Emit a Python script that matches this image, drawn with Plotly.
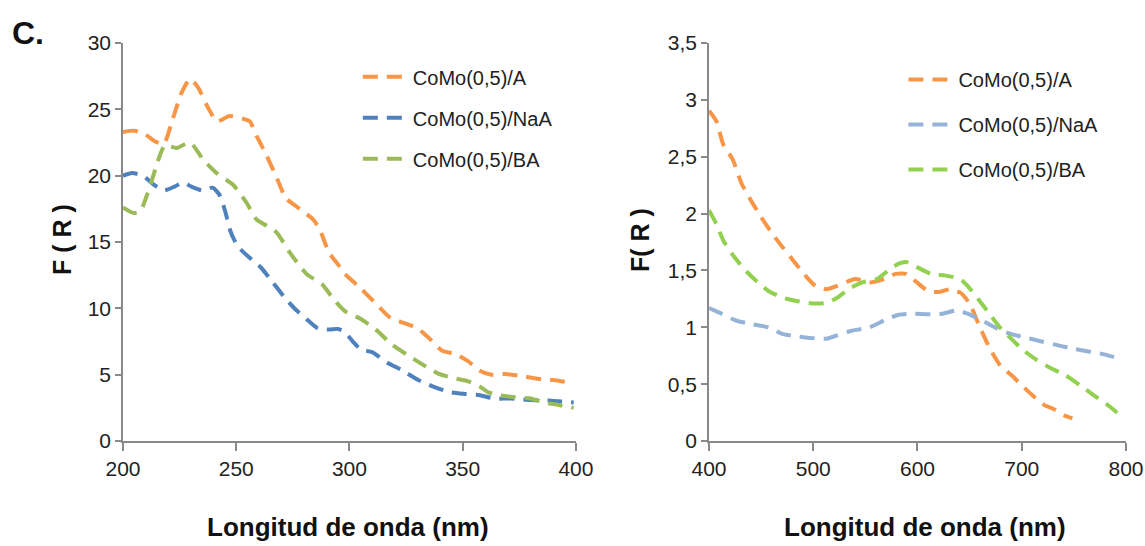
import plotly.graph_objects as go

# ---------------- data (left panel, 200-400 nm) ----------------
left_A_x = [200, 205, 210, 214, 218, 222, 226, 229.6, 233, 238, 241.5, 247, 253, 256, 259, 263.5, 268, 272, 278, 284,
            287, 291, 295, 298, 305, 312, 318, 324, 330, 335.5, 341, 347, 352.5, 357.6, 362.6, 369, 376, 383, 390, 399]
left_A_y = [23.3, 23.4, 23.1, 22.6, 22.4, 24.3, 26.3, 27.3, 26.7, 25.0, 24.1, 24.5, 24.3, 24.1, 23.0, 21.5, 19.8, 18.3,
            17.5, 16.7, 15.9, 14.2, 13.3, 12.6, 11.5, 10.3, 9.3, 8.9, 8.5, 7.7, 6.8, 6.55, 6.0, 5.3, 5.0, 5.05, 4.9, 4.7,
            4.6, 4.35]

left_NaA_x = [200, 204, 209, 213, 218, 223, 226.6, 230, 235, 239.6, 242.5, 245, 247.5, 250.6, 255.7, 260.8, 266, 271,
              276, 281, 286, 291, 295, 298, 301.5, 305, 310, 316.8, 323.6, 330.4, 337, 344, 351, 357.6, 364, 371, 380,
              388, 399]
left_NaA_y = [20.0, 20.2, 20.0, 19.4, 18.9, 19.2, 19.5, 19.2, 18.9, 19.1, 18.6, 17.4, 15.8, 14.7, 13.85, 13.1, 12.0,
              10.9, 9.95, 9.2, 8.5, 8.4, 8.45, 8.2, 7.5, 6.9, 6.7, 5.9, 5.3, 4.6, 4.1, 3.7, 3.55, 3.45, 3.2, 3.2, 3.1,
              3.05, 2.9]

left_BA_x = [200, 204.5, 207.5, 211.9, 215.6, 218.5, 223.7, 229.6, 235.5, 241.4, 248.7, 254.6, 259, 264.9, 268, 273.7,
             281, 288, 293, 298, 305, 311.7, 318.5, 325, 332, 339, 345.7, 352.5, 357.6, 361, 366, 373, 380, 386, 393, 399]
left_BA_y = [17.6, 17.2, 17.3, 19.2, 21.2, 22.3, 22.1, 22.5, 21.2, 20.2, 19.3, 17.95, 16.7, 16.1, 15.7, 14.2, 12.6,
             11.8, 10.7, 9.8, 9.2, 8.4, 7.3, 6.55, 5.8, 5.1, 4.75, 4.5, 4.1, 3.7, 3.45, 3.3, 3.2, 2.9, 2.7, 2.5]

# ---------------- data (right panel, 400-800 nm) ----------------
right_A_x = [400, 407, 414, 422.6, 431, 440, 450, 461, 471, 481.5, 492, 502, 512.7, 523, 540.5, 554, 568, 579, 589,
             599.5, 610, 620, 631, 641, 650, 658.5, 669, 679, 690, 700, 710.5, 721, 731, 742, 748.6]
right_A_y = [2.905, 2.815, 2.60, 2.48, 2.27, 2.12, 1.97, 1.82, 1.70, 1.58, 1.46, 1.365, 1.335, 1.365, 1.425, 1.395,
             1.425, 1.47, 1.47, 1.395, 1.32, 1.31, 1.335, 1.305, 1.21, 1.03, 0.82, 0.67, 0.58, 0.49, 0.40, 0.32, 0.28,
             0.22, 0.20]

right_NaA_x = [400, 412, 426, 440, 457, 471, 485, 499, 512.7, 523, 537, 554, 568, 582, 596, 610, 624, 638, 648, 662,
               676, 690, 704, 717, 731, 745, 762.5, 780, 797]
right_NaA_y = [1.17, 1.12, 1.06, 1.03, 1.0, 0.94, 0.92, 0.905, 0.90, 0.93, 0.97, 1.0, 1.06, 1.11, 1.12, 1.115, 1.12,
               1.15, 1.12, 1.06, 0.99, 0.94, 0.91, 0.88, 0.85, 0.82, 0.79, 0.76, 0.715]

right_BA_x = [400, 407, 414, 422.6, 433, 443.4, 457, 471, 485, 499, 512.7, 523, 533.6, 547, 561, 572, 582, 589, 599.5,
              613, 627, 641, 648, 658.5, 669, 679, 690, 700, 714, 728, 742, 756, 769.5, 783.4, 794]
right_BA_y = [2.03, 1.91, 1.76, 1.64, 1.52, 1.425, 1.32, 1.26, 1.23, 1.21, 1.215, 1.26, 1.335, 1.395, 1.425, 1.50,
              1.56, 1.575, 1.53, 1.47, 1.455, 1.425, 1.365, 1.245, 1.12, 1.0, 0.90, 0.81, 0.715, 0.64, 0.58, 0.49,
              0.40, 0.31, 0.23]

names = ["CoMo(0,5)/A", "CoMo(0,5)/NaA", "CoMo(0,5)/BA"]
left_colors = ["#F79646", "#4F81BD", "#9BBB59"]
right_colors = ["#F79646", "#95B3D7", "#92D050"]

FONT = "Liberation Sans Narrow, Arial Narrow, Liberation Sans, Arial, sans-serif"
DASH = "15px,9px"

fig = go.Figure()
left = [(left_A_x, left_A_y), (left_NaA_x, left_NaA_y), (left_BA_x, left_BA_y)]
right = [(right_A_x, right_A_y), (right_NaA_x, right_NaA_y), (right_BA_x, right_BA_y)]
for i, (xs, ys) in enumerate(left):
    fig.add_trace(go.Scatter(x=xs, y=ys, mode="lines", name=names[i], legend="legend",
                             legendgroup="L%d" % i,
                             line=dict(color=left_colors[i], width=4, dash=DASH, shape="spline", smoothing=0.6),
                             xaxis="x", yaxis="y"))
for i, (xs, ys) in enumerate(right):
    fig.add_trace(go.Scatter(x=xs, y=ys, mode="lines", name=names[i], legend="legend2",
                             legendgroup="R%d" % i,
                             line=dict(color=right_colors[i], width=4, dash=DASH, shape="spline", smoothing=0.6),
                             xaxis="x2", yaxis="y2"))

axis_common = dict(showgrid=False, zeroline=False, showline=True, linecolor="#898989", linewidth=1.5,
                   ticks="outside", tickcolor="#898989", tickwidth=1.5, automargin=False,
                   tickfont=dict(family=FONT, size=21, color="#222222"))

fig.update_layout(
    width=1145, height=546,
    margin=dict(l=0, r=0, t=0, b=0, autoexpand=False),
    paper_bgcolor="white", plot_bgcolor="white",
    separators=", ",
    showlegend=True,
    xaxis=dict(domain=[0.1074, 0.503], range=[200, 400], tickvals=[200, 250, 300, 350, 400], ticklen=8,
               anchor="y", **axis_common),
    yaxis=dict(domain=[0.1923, 0.921], range=[0, 30], tickvals=[0, 5, 10, 15, 20, 25, 30], ticklen=6,
               anchor="x", **axis_common),
    xaxis2=dict(domain=[0.6192, 0.9834], range=[400, 800], tickvals=[400, 500, 600, 700, 800], ticklen=8,
                anchor="y2", **axis_common),
    yaxis2=dict(domain=[0.1923, 0.921], range=[0, 3.5], tickvals=[0, 0.5, 1, 1.5, 2, 2.5, 3, 3.5], ticklen=6,
                anchor="x2", **axis_common),
    legend=dict(x=0.3125, y=0.895, xanchor="left", yanchor="top", bgcolor="rgba(0,0,0,0)",
                font=dict(family=FONT, size=20, color="#222222"), tracegroupgap=12, itemwidth=45),
    legend2=dict(x=0.789, y=0.89, xanchor="left", yanchor="top", bgcolor="rgba(0,0,0,0)",
                 font=dict(family=FONT, size=20, color="#222222"), tracegroupgap=16, itemwidth=45),
)

title_font = dict(family="Liberation Sans, Arial, sans-serif", size=26, color="#111111")
ann = dict(xref="paper", yref="paper", showarrow=False, xanchor="center", yanchor="middle")
fig.add_annotation(text="<b>C.</b>", x=28 / 1145, y=1 - 33 / 546,
                   font=dict(family="Liberation Sans, Arial", size=32, color="#111111"), **ann)
fig.add_annotation(text="<b>F ( R )</b>", x=62 / 1145, y=1 - 240 / 546, textangle=-90,
                   font=dict(family="Liberation Sans, Arial", size=25, color="#111111"), **ann)
fig.add_annotation(text="<b>F( R )</b>", x=640 / 1145, y=1 - 240 / 546, textangle=-90,
                   font=dict(family="Liberation Sans, Arial", size=25, color="#111111"), **ann)
fig.add_annotation(text="<b>Longitud de onda (nm)</b>", x=348 / 1145, y=1 - 527 / 546, font=title_font, **ann)
fig.add_annotation(text="<b>Longitud de onda (nm)</b>", x=925 / 1145, y=1 - 527 / 546, font=title_font, **ann)

fig.write_html("out.html")
